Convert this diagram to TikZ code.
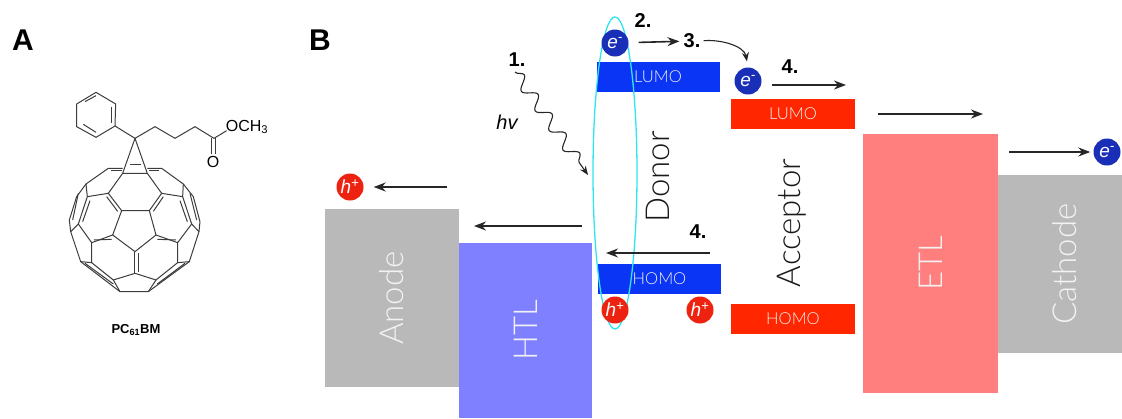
\documentclass[tikz,border=0pt]{standalone}
\usepackage{fontspec}
\setmainfont{Liberation Sans}
\newfontfamily\bandfont{Lato Light}
\usetikzlibrary{positioning,calc,arrows.meta,decorations.pathmorphing}
\definecolor{donorblue}{HTML}{0A35F5}
\definecolor{acceptred}{HTML}{FF2600}
\definecolor{htlblue}{HTML}{7F80FF}
\definecolor{etlred}{HTML}{FF7F7F}
\definecolor{blockgrey}{HTML}{B9B9B9}
\definecolor{electron}{HTML}{1A2FB8}
\definecolor{hole}{HTML}{EE2211}
\definecolor{excite}{HTML}{2FE6EE}
\definecolor{bondgrey}{HTML}{3C3C3C}
\tikzset{
  panel/.style={font=\fontsize{30}{30}\selectfont\bfseries, inner sep=0pt},
  stepnum/.style={font=\fontsize{20}{20}\selectfont\bfseries, inner sep=0pt},
  band/.style={minimum width=123pt, minimum height=30pt, inner sep=0pt, outer sep=0pt, text=white!90!gray, font=\fontsize{16.5}{16.5}\selectfont\bandfont},
  block/.style={rotate=90, inner sep=0pt, outer sep=0pt, text=white!90!gray, font=\fontsize{33}{33}\selectfont\bandfont},
  layer/.style={rotate=90, inner sep=0pt, text=black!90, font=\fontsize{33}{33}\selectfont\bandfont},
  carrier/.style={circle, minimum size=27pt, inner sep=0pt, text=white, font=\fontsize{19}{19}\selectfont\itshape},
  flow/.style={-{Stealth[length=12pt,width=9pt]}, line width=1.6pt, black!85},
  thin flow/.style={-{Stealth[length=9pt,width=7pt]}, line width=1.1pt, black!85},
  bond/.style={line width=1pt, bondgrey, line join=round}
}
\begin{document}
\begin{tikzpicture}[x=1pt, y=-1pt, >=stealth]
\useasboundingbox (0,0) rectangle (1122,418);

\node [panel] (panelA) at (23,40) {A};
\node [panel] (panelB) at (320,40) {B};

% molecule
\begin{scope}[shift={(50,80)}, x=0.3333pt, y=-0.3333pt]
\draw [bond] (138,37) -- (197,72) -- (195,138) -- (138,172) -- (80,140) -- (80,72) -- cycle;
\draw [bond] (105,65) -- (138,47);
\draw [bond] (186,80) -- (186,130);
\draw [bond] (100,133) -- (138,157);
\draw [bond] (195,138) -- (255,175) -- (315,140) -- (375,175) -- (435,140) -- (492,175) -- (530,152);
\draw [bond] (486,175) -- (486,222);
\draw [bond] (498,175) -- (498,222);
% cyclopropane
\draw [bond] (255,175) -- (218,280) -- (292,280) -- cycle;
\draw [bond] (240,255) -- (272,255);
% outer shell
\draw [bond] (218,280) -- (175,340) -- (215,392) -- (298,392) -- (335,340) -- (292,280);
\draw [bond] (218,265) -- (175,265) -- (108,312) -- (112,350) -- (175,340);
\draw [bond] (292,265) -- (335,265) -- (400,312) -- (398,350) -- (335,340);
\draw [bond] (108,312) -- (80,350) -- (58,420) -- (62,455) -- (92,545) -- (210,635) -- (295,635) -- (418,545) -- (447,455) -- (450,425) -- (430,350) -- (400,312);
\draw [bond] (215,392) -- (188,465) -- (255,515) -- (318,465) -- (298,392);
\draw [bond] (188,465) -- (125,488) -- (85,432) -- (112,350);
\draw [bond] (318,465) -- (383,488) -- (425,432) -- (398,350);
\draw [bond] (85,432) -- (62,455);
\draw [bond] (425,432) -- (447,455);
\draw [bond] (125,488) -- (125,548) -- (190,600) -- (255,580) -- (318,600) -- (383,548) -- (383,488);
\draw [bond] (255,515) -- (255,580);
\draw [bond] (190,600) -- (210,635);
\draw [bond] (318,600) -- (295,635);
\draw [bond] (92,545) -- (125,548);
\draw [bond] (418,545) -- (383,548);
% double bonds
\draw [bond] (170,350) -- (203,394);
\draw [bond] (340,350) -- (310,394);
\draw [bond] (132,480) -- (185,478);
\draw [bond] (378,480) -- (322,478);
\draw [bond] (265,520) -- (265,575);
\draw [bond] (120,362) -- (98,425);
\draw [bond] (390,362) -- (412,425);
\draw [bond] (105,550) -- (190,612);
\draw [bond] (405,550) -- (322,612);
\draw [bond] (85,340) -- (68,420);
\draw [bond] (420,340) -- (440,420);
\draw [bond] (182,272) -- (215,272);
\draw [bond] (328,272) -- (296,272);
\end{scope}

\node [inner sep=0pt, font=\fontsize{16}{16}\selectfont] (ester) at (247,127) {OCH\textsubscript{3}};
\node [inner sep=0pt, font=\fontsize{16}{16}\selectfont] (oxo) at (213,162) {O};
\node [inner sep=0pt, font=\fontsize{13}{13}\selectfont\bfseries] (pcbm) at (136,330) {PC\textsubscript{61}BM};

% energy levels
\node [block, fill=blockgrey, minimum width=178pt, minimum height=134pt] (anode) at (392,298) {Anode};
\node [block, fill=htlblue, minimum width=175pt, minimum height=133pt] (htl) at (525.5,330.5) {HTL};
\node [block, fill=etlred, minimum width=259pt, minimum height=135pt] (etl) at (930.5,263.5) {ETL};
\node [block, fill=blockgrey, minimum width=178pt, minimum height=134pt] (cathode) at (1065,264) {Cathode};

\node [band, fill=donorblue] (lumoD) at (658,77) {LUMO};
\node [band, fill=donorblue] (homoD) at (659.5,279) {HOMO};
\node [band, fill=acceptred, minimum width=124pt] (lumoA) at (793,114) {LUMO};
\node [band, fill=acceptred, minimum width=124pt] (homoA) at (793,319) {HOMO};

\node [layer] (donor) at (658,177) {Donor};
\node [layer] (acceptor) at (792,223) {Acceptor};

\draw [excite, line width=1.3pt] (615,173) ellipse [x radius=22, y radius=156];

% carriers
\foreach \n/\x/\y in {eD/615/43, eA/748/81, eC/1107/152}
  \node [carrier, fill=electron] (\n) at (\x,\y) {e\textsuperscript{-}};
\foreach \n/\x/\y in {hA/350/187, hD/615/310, hE/700/310}
  \node [carrier, fill=hole] (\n) at (\x,\y) {h\textsuperscript{+}};

% steps
\node [stepnum] (one) at (517,60) {1.};
\node [inner sep=0pt, font=\fontsize{20}{20}\selectfont\itshape] (hv) at (507,122) {hv};
\node [stepnum] (two) at (643,21) {2.};
\node [stepnum] (three) at (692,41) {3.};
\node [stepnum] (fourA) at (790,67) {4.};
\node [stepnum] (fourD) at (698,232) {4.};

\coordinate (hit) at (588,175);
\coordinate (a1) at (772,85);
\coordinate (a2) at (846,85);
\coordinate (b1) at (878,114);
\coordinate (b2) at (983,114);
\coordinate (c1) at (1009,152);
\coordinate (d1) at (447,187);
\coordinate (f1) at (582,226);
\coordinate (f2) at (474,226);
\coordinate (g1) at (710,253);
\coordinate (g2) at (606,253);

\draw [thin flow, decorate, decoration={snake, amplitude=6pt, segment length=24pt, post length=7pt}] (one.south) ++(-2,5) -- (hit);
\draw [flow, shorten <=10pt, shorten >=4pt] (eD) -- (three);
\draw [thin flow, shorten <=3pt, shorten >=6pt] (three.east) to [out=5, in=100] (eA.north);
\draw [flow] (a1) -- (a2);
\draw [flow] (b1) -- (b2);
\draw [flow, shorten >=3pt] (c1) -- (eC);
\draw [flow, shorten >=10pt] (d1) -- (hA);
\draw [flow] (f1) -- (f2);
\draw [flow] (g1) -- (g2);

\end{tikzpicture}
\end{document}
